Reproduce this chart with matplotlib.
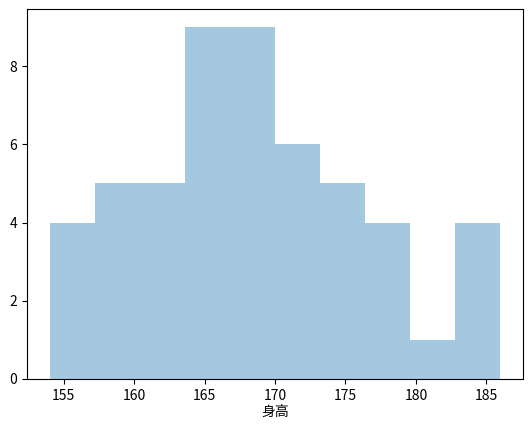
import matplotlib.pyplot as plt
import numpy as np

plt.rcParams['font.family'] = ['Noto Sans CJK SC', 'DejaVu Sans']
plt.rcParams['axes.unicode_minus'] = False

# 直方图分箱边界与每箱人数
bin_edges = np.linspace(154, 186, 11)
counts = [4, 5, 5, 9, 9, 6, 5, 4, 1, 4]

fig = plt.figure(figsize=(5.32, 4.29), dpi=100)
ax = fig.add_axes([27 / 532, 50 / 429, 496 / 532, 369.7 / 429])
ax.hist(bin_edges[:-1], bins=bin_edges, weights=counts, color='#1f77b4',
        alpha=0.4, histtype='stepfilled', linewidth=0)
ax.set_xlabel('身高', fontsize=10, labelpad=2)
ax.tick_params(labelsize=10)
fig.savefig('out.png')
